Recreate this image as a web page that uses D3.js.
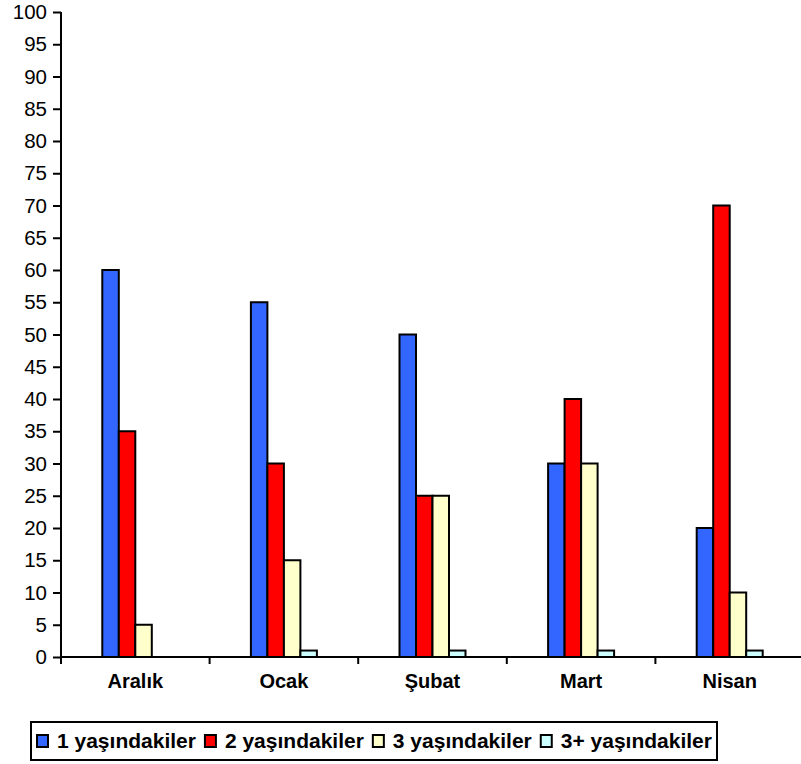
<!DOCTYPE html>
<html><head><meta charset="utf-8">
<script src="https://cdn.jsdelivr.net/npm/d3@7"></script>
<style>body{margin:0;background:#fff}svg{display:block}</style>
</head><body>
<svg id="c" width="801" height="764"></svg>
<script>
const categories = ["Aralık","Ocak","Şubat","Mart","Nisan"];
const seriesNames = ["1 yaşındakiler","2 yaşındakiler","3 yaşındakiler","3+ yaşındakiler"];
const s1 = [60,55,50,30,20];
const s2 = [35,30,25,40,70];
const s3 = [5,15,25,30,10];
const s4 = [0,1,1,1,1];
const seriesColors = ["#3366FF","#FF0000","#FFFFCC","#CCFFFF"];
const yTicks = d3.range(0,101,5);

(function(){
const values = [s1,s2,s3,s4];
const svg = d3.select("#c");
const font = "Liberation Sans, Arial, sans-serif";
const pl = 61, pr = 804, pt = 12, pb = 657;
const x = d3.scaleBand().domain(categories).range([pl,pr]).paddingInner(0).paddingOuter(0);
const y = d3.scaleLinear().domain([0,100]).range([pb,pt]);
const bw = 16.5;
const inner = d3.scaleBand().domain(seriesNames).range([0,bw*4]);

categories.forEach((c,i)=>{
  const g0 = x(c) + (x.bandwidth()-bw*4)/2;
  seriesNames.forEach((s,j)=>{
    const v = values[j][i];
    if (v<=0) return;
    svg.append("rect").attr("x",g0+inner(s)).attr("y",y(v)).attr("width",inner.bandwidth()).attr("height",y(0)-y(v))
      .attr("fill",seriesColors[j]).attr("stroke","#000").attr("stroke-width",2);
  });
});

const ya = svg.append("g").attr("transform",`translate(${pl},0)`)
  .call(d3.axisLeft(y).tickValues(yTicks).tickSize(8).tickPadding(6));
ya.select(".domain").attr("stroke","#000").attr("stroke-width",2).attr("d",`M0,${pt}V${pb}`);
ya.selectAll(".tick line").attr("stroke","#000").attr("stroke-width",2);
ya.selectAll("text").attr("font-family",font).attr("font-size",20.5).attr("fill","#000");

const xa = svg.append("g").attr("transform",`translate(0,${pb})`);
xa.append("line").attr("x1",pl).attr("x2",pr).attr("y1",0).attr("y2",0).attr("stroke","#000").attr("stroke-width",2);
categories.forEach(c=>{
  xa.append("line").attr("x1",x(c)).attr("x2",x(c)).attr("y1",0).attr("y2",7).attr("stroke","#000").attr("stroke-width",2);
  xa.append("text").attr("x",x(c)+x.bandwidth()/2).attr("y",31).attr("text-anchor","middle")
    .attr("font-family",font).attr("font-size",20).attr("font-weight","bold").text(c);
});

const lg = svg.append("g");
lg.append("rect").attr("x",31).attr("y",722).attr("width",686).attr("height",38).attr("fill","#fff").attr("stroke","#000").attr("stroke-width",2);
let cx = 37;
seriesNames.forEach((s,j)=>{
  const g = lg.append("g").attr("transform",`translate(${cx},741)`);
  g.append("rect").attr("x",0).attr("y",-6).attr("width",11).attr("height",12).attr("fill",seriesColors[j]).attr("stroke","#000").attr("stroke-width",2);
  const t = g.append("text").attr("x",20).attr("y",7).attr("font-family",font).attr("font-size",21).attr("font-weight","bold").text(s);
  cx += 20 + t.node().getComputedTextLength() + 9;
});
})();
</script>
</body></html>
